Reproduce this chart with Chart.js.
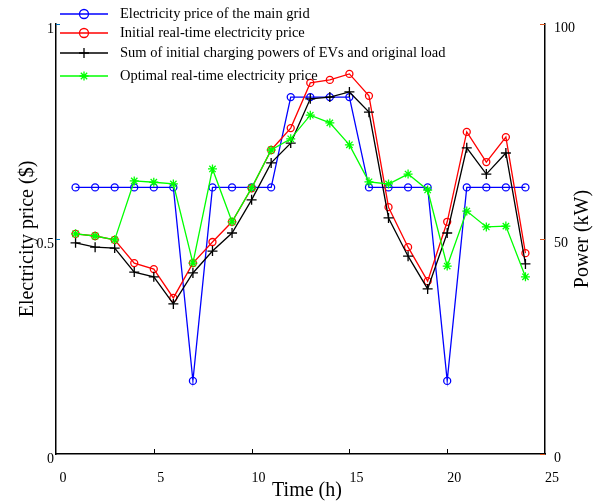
<!DOCTYPE html>
<html lang="en">
<head>
    <meta charset="UTF-8">
    <title>Electricity price and power</title>
    <script src="https://cdn.jsdelivr.net/npm/chart.js"></script>
    <style>
        body {
            margin: 0;
            background: #ffffff;
        }
        .chart-box {
            position: relative;
            width: 599px;
            height: 502px;
        }
    </style>
</head>
<body>
    <div class="chart-box">
        <canvas id="priceChart"></canvas>
    </div>

    <script>
        // data
        const hours = [1, 2, 3, 4, 5, 6, 7, 8, 9, 10, 11, 12, 13, 14, 15, 16, 17, 18, 19, 20, 21, 22, 23, 24];
        const mainGridPrice = [0.62, 0.62, 0.62, 0.62, 0.62, 0.62, 0.17, 0.62, 0.62, 0.62, 0.62, 0.83,
                               0.83, 0.83, 0.83, 0.62, 0.62, 0.62, 0.62, 0.17, 0.62, 0.62, 0.62, 0.62];
        const initialPrice = [0.512, 0.507, 0.498, 0.444, 0.43, 0.363, 0.444, 0.493, 0.54, 0.618, 0.707, 0.758,
                              0.863, 0.87, 0.884, 0.833, 0.574, 0.481, 0.402, 0.54, 0.749, 0.679, 0.737, 0.467];
        const totalPower = [49.1, 48.1, 47.9, 42.3, 41.2, 34.9, 42.1, 47.2, 51.4, 59.1, 67.7, 72.3,
                            82.6, 83.0, 84.2, 79.5, 54.9, 46.0, 38.4, 51.4, 71.2, 65.1, 70.0, 44.2];
        const optimalPrice = [0.512, 0.507, 0.498, 0.635, 0.632, 0.628, 0.444, 0.663, 0.54, 0.619, 0.707, 0.733,
                              0.788, 0.770, 0.719, 0.633, 0.628, 0.651, 0.614, 0.437, 0.565, 0.528, 0.53, 0.412];
        const xTicks = [0, 5, 10, 15, 20, 25];
        const priceTicks = [0, 0.5, 1];
        const priceTickLabels = ['0', '0.5', '1'];
        const powerTicks = [0, 50, 100];

        const serif = "'Liberation Serif', 'Times New Roman', serif";

        function pts(values) {
            return hours.map((h, i) => ({ x: h, y: values[i] }));
        }

        // inward tick marks like the original figure
        const innerTicks = {
            id: 'innerTicks',
            afterDatasetsDraw(chart) {
                const ctx = chart.ctx;
                const x = chart.scales.x, yl = chart.scales.y, yr = chart.scales.y2;
                ctx.save();
                ctx.lineWidth = 1;
                ctx.strokeStyle = '#000';
                xTicks.slice(1, -1).forEach(v => {
                    const px = Math.round(x.getPixelForValue(v)) + 0.5;
                    ctx.beginPath();
                    ctx.moveTo(px, yl.bottom);
                    ctx.lineTo(px, yl.bottom - 5);
                    ctx.stroke();
                });
                ctx.strokeStyle = '#0072bd';
                priceTicks.slice(1).forEach(v => {
                    const py = Math.round(yl.getPixelForValue(v)) + 0.5;
                    ctx.beginPath();
                    ctx.moveTo(x.left, py);
                    ctx.lineTo(x.left + 4, py);
                    ctx.stroke();
                });
                ctx.strokeStyle = '#d95319';
                powerTicks.forEach(v => {
                    const py = Math.round(yr.getPixelForValue(v)) + 0.5;
                    ctx.beginPath();
                    ctx.moveTo(x.right, py);
                    ctx.lineTo(x.right - 5, py);
                    ctx.stroke();
                });
                ctx.restore();
            }
        };

        // titles for bottom and right axes (right one reads bottom-to-top)
        const axisTitles = {
            id: 'axisTitles',
            afterDraw(chart) {
                const ctx = chart.ctx;
                const area = chart.chartArea;
                ctx.save();
                ctx.fillStyle = '#000';
                ctx.font = '20px ' + serif;
                ctx.textAlign = 'center';
                ctx.textBaseline = 'middle';
                ctx.fillText('Time (h)', 307, 491);
                ctx.translate(583, (area.top + area.bottom) / 2);
                ctx.rotate(-Math.PI / 2);
                ctx.fillText('Power (kW)', 0, 0);
                ctx.restore();
            }
        };

        // legend drawn over the top-left of the plot
        const overlayLegend = {
            id: 'overlayLegend',
            afterDraw(chart) {
                const ctx = chart.ctx;
                const rows = [14, 33, 53, 76];
                ctx.save();
                ctx.font = '14.5px ' + serif;
                ctx.textBaseline = 'middle';
                ctx.textAlign = 'left';
                chart.data.datasets.forEach((ds, i) => {
                    const y = rows[i];
                    ctx.strokeStyle = ds.borderColor;
                    ctx.lineWidth = 1.3;
                    ctx.beginPath();
                    ctx.moveTo(60, y);
                    ctx.lineTo(108, y);
                    ctx.stroke();
                    ctx.fillStyle = 'rgba(0,0,0,0)';
                    Chart.helpers.drawPoint(ctx, {
                        pointStyle: ds.pointStyle,
                        radius: ds.legendRadius,
                        borderWidth: 1.3
                    }, 84, y);
                    ctx.fillStyle = '#000';
                    ctx.fillText(ds.label, 120, y);
                });
                ctx.restore();
            }
        };

        new Chart(document.getElementById('priceChart'), {
            type: 'line',
            data: {
                datasets: [
                    {
                        label: 'Electricity price of the main grid',
                        data: pts(mainGridPrice),
                        yAxisID: 'y',
                        borderColor: '#0000ff',
                        pointBorderColor: '#0000ff',
                        pointBackgroundColor: 'rgba(0,0,0,0)',
                        pointStyle: 'circle',
                        pointRadius: 3.5,
                        legendRadius: 4.5,
                        order: 3
                    },
                    {
                        label: 'Initial real-time electricity price',
                        data: pts(initialPrice),
                        yAxisID: 'y',
                        borderColor: '#ff0000',
                        pointBorderColor: '#ff0000',
                        pointBackgroundColor: 'rgba(0,0,0,0)',
                        pointStyle: 'circle',
                        pointRadius: 3.5,
                        legendRadius: 4.5,
                        order: 2
                    },
                    {
                        label: 'Sum of initial charging powers of EVs and original load',
                        data: pts(totalPower),
                        yAxisID: 'y2',
                        borderColor: '#000000',
                        pointBorderColor: '#000000',
                        pointStyle: 'cross',
                        pointRadius: 5,
                        legendRadius: 5,
                        order: 1
                    },
                    {
                        label: 'Optimal real-time electricity price',
                        data: pts(optimalPrice),
                        yAxisID: 'y',
                        borderColor: '#00ff00',
                        pointBorderColor: '#00ff00',
                        pointStyle: 'star',
                        pointRadius: 4.5,
                        legendRadius: 4.5,
                        order: 0
                    }
                ]
            },
            options: {
                responsive: true,
                maintainAspectRatio: false,
                animation: false,
                events: [],
                elements: {
                    line: { borderWidth: 1.3, tension: 0 },
                    point: { borderWidth: 1.3, hoverRadius: 4 }
                },
                layout: {
                    padding: { top: 24, left: 0, right: 0, bottom: 0 }
                },
                plugins: {
                    legend: { display: false },
                    tooltip: { enabled: false }
                },
                scales: {
                    x: {
                        type: 'linear',
                        min: 0,
                        max: 25,
                        afterBuildTicks: s => { s.ticks = xTicks.map(v => ({ value: v })); },
                        afterFit: s => { s.height = 48; s.paddingLeft = 0; s.paddingRight = 0; },
                        grid: { display: false, drawTicks: false },
                        border: { display: true, color: '#000', width: 1.5 },
                        ticks: {
                            padding: 16,
                            labelOffset: 7,
                            color: '#000',
                            maxRotation: 0,
                            font: { family: serif, size: 14 }
                        }
                    },
                    y: {
                        position: 'left',
                        min: 0,
                        max: 1,
                        afterBuildTicks: s => { s.ticks = priceTicks.map(v => ({ value: v })); },
                        afterFit: s => { s.width = 56; s.paddingTop = 0; s.paddingBottom = 0; },
                        grid: { display: false, drawTicks: false },
                        border: { display: true, color: '#000', width: 1.5 },
                        ticks: {
                            padding: 2,
                            labelOffset: 5,
                            color: '#000',
                            font: { family: serif, size: 14 },
                            callback: (v, i) => priceTickLabels[i]
                        },
                        title: {
                            display: true,
                            text: 'Electricity price ($)',
                            color: '#000',
                            font: { family: serif, size: 20, lineHeight: 1.2 },
                            padding: { top: 16, bottom: 0 }
                        }
                    },
                    y2: {
                        position: 'right',
                        min: 0,
                        max: 100,
                        afterBuildTicks: s => { s.ticks = powerTicks.map(v => ({ value: v })); },
                        afterFit: s => { s.width = 54; s.paddingTop = 0; s.paddingBottom = 0; },
                        grid: { display: false, drawTicks: false },
                        border: { display: true, color: '#000', width: 1.5 },
                        ticks: {
                            padding: 9,
                            labelOffset: 4,
                            color: '#000',
                            font: { family: serif, size: 14 }
                        }
                    }
                }
            },
            plugins: [innerTicks, axisTitles, overlayLegend]
        });
    </script>
</body>
</html>
